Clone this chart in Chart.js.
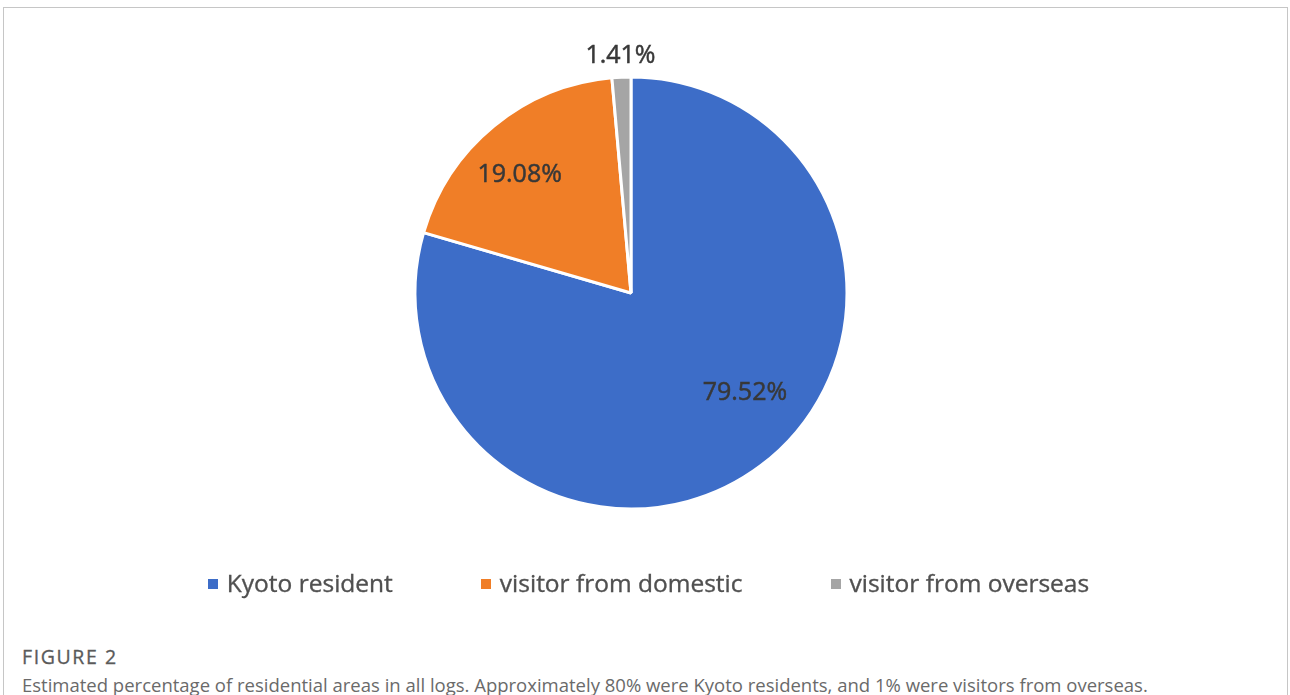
<!DOCTYPE html>
<html>
<head>
<meta charset="utf-8">
<script src="https://cdn.jsdelivr.net/npm/chart.js@4"></script>
<style>
  html, body { margin: 0; padding: 0; background: #fff; }
  body { width: 1290px; height: 695px; position: relative; overflow: hidden; font-family: "Open Sans", sans-serif; }
  #frame { position: absolute; left: 3px; top: 7px; width: 1285px; height: 760px; border: 1px solid #c6c6c6; box-sizing: border-box; }
  #chart-box { position: absolute; left: 5px; top: 8px; width: 1283px; height: 612px; }
  #legend { position: absolute; left: 0; top: 566px; width: 1297px; display: flex; justify-content: center; font-size: 24.5px; color: #505050; -webkit-text-stroke: 0.35px #505050; }
  #legend .item { display: flex; align-items: center; margin: 0 44px; }
  #legend .swatch { width: 10px; height: 10px; margin-right: 9px; margin-top: 3px; }
  #fig-num { position: absolute; left: 22px; top: 643px; font-size: 19.5px; color: #5a5a5a; letter-spacing: 1.6px; -webkit-text-stroke: 0.3px #5a5a5a; }
  #caption { position: absolute; left: 22px; top: 672px; font-size: 18.5px; color: #6a6a6a; white-space: nowrap; }
</style>
</head>
<body>
<div id="frame"></div>
<div id="chart-box"><canvas id="pieChart"></canvas></div>
<div id="legend"></div>
<div id="fig-num">FIGURE 2</div>
<div id="caption">Estimated percentage of residential areas in all logs. Approximately 80% were Kyoto residents, and 1% were visitors from overseas.</div>
<script>
const categories = ['Kyoto resident', 'visitor from domestic', 'visitor from overseas']
const shares = [79.52, 19.08, 1.41]
const sliceColors = ['#3d6dc8', '#f07e27', '#a5a5a5']

// where each percentage sits: fraction of the radius and a small angle nudge (degrees)
const labelRadius = [0.70, 0.75, 1.10]
const labelNudge = [-12, -4, 0]

const pieLabels = {
  id: 'pieLabels',
  afterDatasetsDraw(chart) {
    const ctx = chart.ctx
    const arcs = chart.getDatasetMeta(0).data
    ctx.save()
    ctx.font = '25px "Open Sans", sans-serif'
    ctx.fillStyle = '#383838'
    ctx.strokeStyle = '#383838'
    ctx.lineWidth = 0.5
    ctx.textAlign = 'center'
    ctx.textBaseline = 'middle'
    arcs.forEach(function(arc, i) {
      const p = arc.getProps(['x', 'y', 'startAngle', 'endAngle', 'outerRadius'], true)
      const mid = (p.startAngle + p.endAngle) / 2 + labelNudge[i] * Math.PI / 180
      const r = p.outerRadius * labelRadius[i]
      const txt = shares[i].toFixed(2) + '%'
      const tx = p.x + Math.cos(mid) * r
      const ty = p.y + Math.sin(mid) * r
      ctx.fillText(txt, tx, ty)
      ctx.strokeText(txt, tx, ty)
    })
    ctx.restore()
  }
}

const ctx = document.getElementById('pieChart')
const myChart = new Chart(ctx, {
  type: 'pie',
  data: {
    labels: categories,
    datasets: [{
      data: shares,
      backgroundColor: sliceColors,
      borderColor: '#ffffff',
      borderWidth: 3
    }]
  },
  options: {
    responsive: true,
    maintainAspectRatio: false,
    animation: false,
    radius: 216,
    layout: { padding: { left: 0, right: 31, top: 0, bottom: 42 } },
    plugins: {
      legend: { display: false },
      tooltip: { enabled: false }
    }
  },
  plugins: [pieLabels]
})

// legend built from the chart's own labels and colours
let legendBox = document.getElementById('legend')
for (let i = 0; i < categories.length; i++) {
  let item = document.createElement('div')
  item.className = 'item'
  let swatch = document.createElement('span')
  swatch.className = 'swatch'
  swatch.style.background = sliceColors[i]
  let text = document.createElement('span')
  text.textContent = myChart.data.labels[i]
  item.appendChild(swatch)
  item.appendChild(text)
  legendBox.appendChild(item)
}
</script>
</body>
</html>
